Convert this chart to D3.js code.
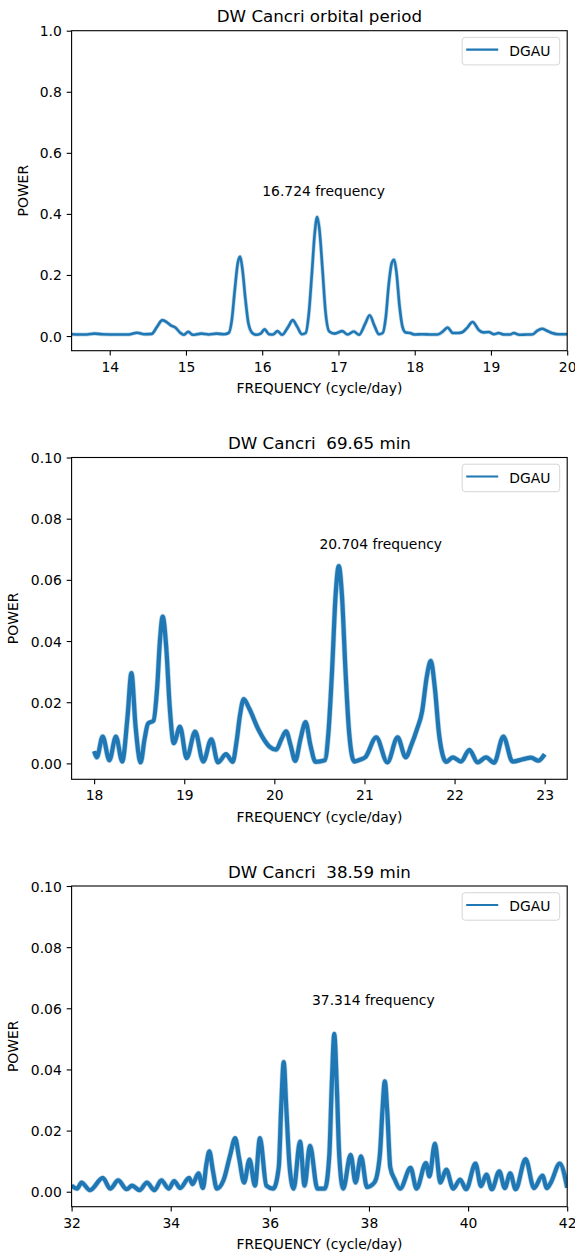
<!DOCTYPE html>
<html>
<head>
<meta charset="utf-8">
<script src="https://cdn.jsdelivr.net/npm/d3@7"></script>
<style>
  html, body { margin: 0; padding: 0; background: #fff; }
  svg { display: block; }
  text { font-family: "DejaVu Sans", sans-serif; fill: #000; white-space: pre; }
</style>
</head>
<body>
<svg id="chart" width="575" height="1257"></svg>
<script>
// ---------------- DATA ----------------
const titles = ["DW Cancri orbital period", "DW Cancri  69.65 min", "DW Cancri  38.59 min"];
const annotations = ["16.724 frequency", "20.704 frequency", "37.314 frequency"];
const annotX = [16.0, 20.5, 36.85];
const annotY = [0.46, 0.07, 0.061];
const seriesName = "DGAU";

const yTicks1 = [0.0, 0.2, 0.4, 0.6, 0.8, 1.0];
const yTicks2 = [0.00, 0.02, 0.04, 0.06, 0.08, 0.10];
const yTicks3 = [0.00, 0.02, 0.04, 0.06, 0.08, 0.10];
const xTicks1 = [14, 15, 16, 17, 18, 19, 20];
const xTicks2 = [18, 19, 20, 21, 22, 23];
const xTicks3 = [32, 34, 36, 38, 40, 42];

// Panel 1: orbital period periodogram
const freq1 = [13.5, 13.7, 13.8, 13.9, 14.1, 14.25, 14.36, 14.45, 14.55, 14.62, 14.69, 14.75, 14.8, 14.86, 14.92, 14.97,
  15.03, 15.09, 15.2, 15.3, 15.4, 15.5, 15.56, 15.6, 15.64, 15.68, 15.71, 15.74, 15.78, 15.82, 15.87, 15.92, 15.98,
  16.03, 16.09, 16.14, 16.2, 16.26, 16.34, 16.4, 16.46, 16.52, 16.57, 16.61, 16.65, 16.69, 16.72, 16.75, 16.79, 16.83,
  16.88, 16.95, 17.05, 17.12, 17.2, 17.27, 17.35, 17.41, 17.47, 17.53, 17.58, 17.62, 17.66, 17.7, 17.73, 17.76, 17.8,
  17.84, 17.88, 17.94, 18.0, 18.1, 18.2, 18.3, 18.37, 18.43, 18.5, 18.56, 18.62, 18.68, 18.76, 18.84, 18.9, 18.97,
  19.04, 19.1, 19.17, 19.25, 19.3, 19.37, 19.47, 19.55, 19.61, 19.67, 19.73, 19.8, 19.88, 19.95, 20.0];
const power1 = [0.006, 0.005, 0.008, 0.006, 0.005, 0.005, 0.011, 0.006, 0.007, 0.03, 0.052, 0.045, 0.035, 0.028, 0.012, 0.004,
  0.014, 0.004, 0.008, 0.005, 0.008, 0.006, 0.01, 0.05, 0.15, 0.24, 0.26, 0.22, 0.12, 0.04, 0.01, 0.004, 0.008,
  0.022, 0.006, 0.005, 0.016, 0.004, 0.03, 0.052, 0.03, 0.006, 0.01, 0.07, 0.2, 0.34, 0.39, 0.35, 0.22, 0.08,
  0.015, 0.008, 0.016, 0.005, 0.015, 0.004, 0.04, 0.068, 0.035, 0.006, 0.01, 0.06, 0.17, 0.24, 0.25, 0.21, 0.1,
  0.03, 0.012, 0.01, 0.005, 0.006, 0.005, 0.005, 0.015, 0.028, 0.01, 0.01, 0.012, 0.025, 0.046, 0.02, 0.012, 0.013,
  0.006, 0.01, 0.005, 0.005, 0.01, 0.004, 0.005, 0.006, 0.018, 0.024, 0.018, 0.01, 0.006, 0.006, 0.006];

// Panel 2: 69.65 min periodogram
const freq2 = [18.0, 18.03, 18.095, 18.169, 18.242, 18.312, 18.37, 18.414, 18.46, 18.516, 18.56, 18.598, 18.659, 18.7, 18.73,
  18.761, 18.8, 18.84, 18.884, 18.953, 19.027, 19.121, 19.211, 19.301, 19.374, 19.464, 19.538, 19.58, 19.62, 19.66,
  19.72, 19.824, 19.946, 20.02, 20.08, 20.13, 20.18, 20.232, 20.29, 20.347, 20.4, 20.457, 20.56, 20.6, 20.64, 20.68,
  20.715, 20.75, 20.79, 20.83, 20.886, 20.95, 21.009, 21.131, 21.254, 21.368, 21.458, 21.52, 21.581, 21.64, 21.69,
  21.736, 21.78, 21.83, 21.908, 21.981, 22.071, 22.165, 22.255, 22.349, 22.439, 22.541, 22.643, 22.766, 22.848,
  22.929, 23.0];
const power2 = [0.004, 0.002, 0.0088, 0.001, 0.0088, 0.0006, 0.015, 0.0295, 0.012, 0.0003, 0.008, 0.013, 0.014, 0.025, 0.04,
  0.048, 0.038, 0.018, 0.0066, 0.012, 0.0017, 0.0104, 0.0006, 0.0079, 0.0003, 0.003, 0.0005, 0.007, 0.016, 0.021,
  0.018, 0.011, 0.0055, 0.0045, 0.008, 0.0105, 0.006, 0.0008, 0.008, 0.0135, 0.006, 0.0005, 0.001, 0.01, 0.03, 0.055,
  0.0645, 0.055, 0.03, 0.01, 0.0006, 0.0012, 0.002, 0.0085, 0.0003, 0.0085, 0.002, 0.006, 0.011, 0.017, 0.028,
  0.0335, 0.025, 0.009, 0.0005, 0.002, 0.0006, 0.0044, 0.0003, 0.002, 0.0002, 0.0088, 0.0006, 0.0014, 0.0019,
  0.0009, 0.003];

// Panel 3: 38.59 min periodogram
const freq3 = [32.0, 32.11, 32.2, 32.37, 32.63, 32.78, 32.94, 33.11, 33.22, 33.37, 33.52, 33.67, 33.81, 33.96, 34.07, 34.19,
  34.37, 34.44, 34.56, 34.65, 34.72, 34.78, 34.85, 34.93, 35.07, 35.2, 35.3, 35.38, 35.48, 35.59, 35.7, 35.8, 35.93,
  36.07, 36.18, 36.23, 36.28, 36.33, 36.4, 36.48, 36.61, 36.7, 36.81, 36.96, 37.11, 37.2, 37.25, 37.3, 37.35, 37.4,
  37.48, 37.63, 37.73, 37.84, 37.96, 38.11, 38.22, 38.27, 38.32, 38.37, 38.43, 38.52, 38.63, 38.84, 38.96, 39.15,
  39.22, 39.33, 39.44, 39.56, 39.7, 39.84, 39.96, 40.15, 40.26, 40.37, 40.48, 40.63, 40.74, 40.85, 40.96, 41.16,
  41.33, 41.5, 41.59, 41.67, 41.85, 42.0];
const power3 = [0.002, 0.001, 0.003, 0.0005, 0.0045, 0.001, 0.0037, 0.0008, 0.002, 0.0005, 0.003, 0.0005, 0.0037, 0.001, 0.0035, 0.0012,
  0.0045, 0.0025, 0.006, 0.0012, 0.009, 0.0132, 0.007, 0.001, 0.004, 0.012, 0.0175, 0.011, 0.003, 0.0105, 0.002, 0.0175, 0.002,
  0.001, 0.008, 0.028, 0.0424, 0.028, 0.008, 0.001, 0.0164, 0.002, 0.015, 0.001, 0.001, 0.012, 0.035, 0.0516, 0.035, 0.012,
  0.001, 0.0121, 0.003, 0.0116, 0.0015, 0.003, 0.012, 0.026, 0.0361, 0.026, 0.008, 0.004, 0.001, 0.0078, 0.001, 0.0094,
  0.005, 0.0157, 0.003, 0.0072, 0.001, 0.004, 0.0008, 0.0092, 0.0018, 0.0056, 0.0008, 0.0067, 0.0012, 0.006, 0.0008, 0.0107,
  0.0012, 0.0053, 0.0012, 0.003, 0.0092, 0.0013];

// ---------------- LAYOUT ----------------
const FS = 13.9, TFS = 16.7, TICK = 4.9, PAD = 4.9;
const blue = "#1f77b4";
const panels = [
  { title: titles[0], freq: freq1, power: power1, xDomain: [13.5, 20], yDomain: [-0.048, 1.0],
    xTicks: xTicks1, yTicks: yTicks1, yFmt: d3.format(".1f"), top: 30.7, bottom: 350.7, ylabX: 27.5, lw: 2.6,
    note: annotations[0], nx: annotX[0], ny: annotY[0] },
  { title: titles[1], freq: freq2, power: power2, xDomain: [17.75, 23.25], yDomain: [-0.0052, 0.1],
    xTicks: xTicks2, yTicks: yTicks2, yFmt: d3.format(".2f"), top: 457.5, bottom: 779.3, ylabX: 18, lw: 4.2,
    note: annotations[1], nx: annotX[1], ny: annotY[1] },
  { title: titles[2], freq: freq3, power: power3, xDomain: [32, 42], yDomain: [-0.0049, 0.1],
    xTicks: xTicks3, yTicks: yTicks3, yFmt: d3.format(".2f"), top: 886, bottom: 1206.7, ylabX: 18, lw: 4.2,
    note: annotations[2], nx: annotX[2], ny: annotY[2] }
];
const left = 71.6, right = 567.2;

const svg = d3.select("#chart");

panels.forEach(p => {
  const x = d3.scaleLinear().domain(p.xDomain).range([left, right]);
  const y = d3.scaleLinear().domain(p.yDomain).range([p.bottom, p.top]);
  const g = svg.append("g");

  const clipId = "clip" + Math.round(p.top);
  svg.append("defs").append("clipPath").attr("id", clipId)
    .append("rect").attr("x", left).attr("y", p.top).attr("width", right - left).attr("height", p.bottom - p.top);

  // series
  const pts = p.freq.map((f, i) => [f, p.power[i]]);
  const line = d3.line().x(d => x(d[0])).y(d => y(d[1])).curve(d3.curveMonotoneX);
  const lg = g.append("g").attr("clip-path", `url(#${clipId})`);
  lg.append("path").datum(pts).attr("d", line).attr("fill", "none")
    .attr("stroke", blue).attr("stroke-opacity", 0.3).attr("stroke-width", p.lw + 1.4)
    .attr("stroke-linejoin", "round");
  lg.append("path").datum(pts).attr("d", line).attr("fill", "none")
    .attr("stroke", blue).attr("stroke-width", p.lw).attr("stroke-linejoin", "round");

  // axes
  const ax = g.append("g").attr("transform", `translate(0,${p.bottom})`)
    .call(d3.axisBottom(x).tickValues(p.xTicks).tickFormat(d3.format("d")).tickSize(TICK).tickPadding(PAD));
  const ay = g.append("g").attr("transform", `translate(${left},0)`)
    .call(d3.axisLeft(y).tickValues(p.yTicks).tickFormat(p.yFmt).tickSize(TICK).tickPadding(PAD));
  [ax, ay].forEach(a => {
    a.select(".domain").remove();
    a.selectAll(".tick line").attr("stroke", "#000").attr("stroke-width", 1.1);
    a.selectAll(".tick text").attr("font-family", "DejaVu Sans").attr("font-size", FS).attr("fill", "#000");
  });
  ax.selectAll(".tick text").attr("dy", null).attr("y", TICK + PAD + 11.2);
  ay.selectAll(".tick text").attr("dy", "0.36em");

  // frame
  g.append("rect").attr("x", left).attr("y", p.top).attr("width", right - left).attr("height", p.bottom - p.top)
    .attr("fill", "none").attr("stroke", "#000").attr("stroke-width", 1.1);

  // title
  g.append("text").attr("x", (left + right) / 2).attr("y", p.top - 8.3).attr("text-anchor", "middle")
    .attr("font-size", TFS).text(p.title);

  // axis labels
  g.append("text").attr("x", (left + right) / 2).attr("y", p.bottom + 42.5).attr("text-anchor", "middle")
    .attr("font-size", FS).text("FREQUENCY (cycle/day)");
  g.append("text").attr("transform", `translate(${p.ylabX},${(p.top + p.bottom) / 2}) rotate(-90)`)
    .attr("text-anchor", "middle").attr("font-size", FS).text("POWER");

  // annotation
  g.append("text").attr("x", x(p.nx)).attr("y", y(p.ny)).attr("font-size", FS).text(p.note);

  // legend
  const lx = right - 105, ly = p.top + 6.7, lw = 97.5, lh = 27.5;
  g.append("rect").attr("x", lx).attr("y", ly).attr("width", lw).attr("height", lh).attr("rx", 3)
    .attr("fill", "#fff").attr("fill-opacity", 0.8).attr("stroke", "#d6d6d6").attr("stroke-width", 1);
  g.append("line").attr("x1", lx + 4).attr("x2", lx + 36).attr("y1", ly + lh / 2 - 1.5).attr("y2", ly + lh / 2 - 1.5)
    .attr("stroke", blue).attr("stroke-width", 2.1);
  g.append("text").attr("x", lx + 47).attr("y", ly + lh / 2 + 5).attr("font-size", FS).text(seriesName);
});
</script>
</body>
</html>
